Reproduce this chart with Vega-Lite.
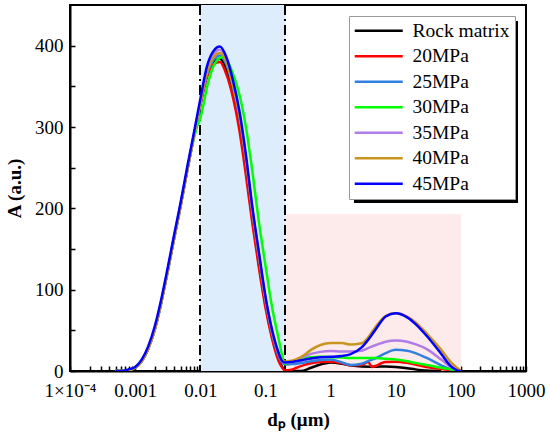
{
"$schema":"https://vega.github.io/schema/vega-lite/v6.json",
"width":456,"height":366,
"autosize":{"type":"none"},
"padding":{"left":70,"top":5,"right":24,"bottom":72},
"config":{
 "view":{"stroke":"black","strokeWidth":2},
 "font":"Liberation Serif",
 "style":{"guide-label":{"font":"Liberation Serif","fontSize":19,"fill":"black"},"guide-title":{"font":"Liberation Serif","fontSize":19,"fontWeight":"bold","fill":"black"}},
 "axis":{"domainColor":"black","domainWidth":2,"tickColor":"black","tickWidth":1.5,"labelColor":"black","labelFont":"Liberation Serif","labelFontSize":19,"titleFont":"Liberation Serif","titleFontSize":19,"titleFontWeight":"bold","titleColor":"black","grid":false,"labelOverlap":false,"labelBound":false,"labelFlush":false,"zindex":1},
 "legend":{"labelFont":"Liberation Serif","labelColor":"black"}
},
"data":{"values":[
{"s":"Rock matrix","x":0.0005,"y":0},{"s":"Rock matrix","x":0.00063,"y":0},{"s":"Rock matrix","x":0.00079,"y":1},{"s":"Rock matrix","x":0.001,"y":4},{"s":"Rock matrix","x":0.00126,"y":12},{"s":"Rock matrix","x":0.00158,"y":27},{"s":"Rock matrix","x":0.002,"y":51},{"s":"Rock matrix","x":0.00251,"y":84},{"s":"Rock matrix","x":0.00316,"y":123},{"s":"Rock matrix","x":0.00398,"y":164},{"s":"Rock matrix","x":0.00501,"y":204},{"s":"Rock matrix","x":0.00631,"y":247},{"s":"Rock matrix","x":0.00794,"y":288},{"s":"Rock matrix","x":0.01,"y":328},{"s":"Rock matrix","x":0.0126,"y":363},{"s":"Rock matrix","x":0.0158,"y":380},{"s":"Rock matrix","x":0.02,"y":384},{"s":"Rock matrix","x":0.0251,"y":371},{"s":"Rock matrix","x":0.0316,"y":343},{"s":"Rock matrix","x":0.0398,"y":303},{"s":"Rock matrix","x":0.0501,"y":249},{"s":"Rock matrix","x":0.0631,"y":187},{"s":"Rock matrix","x":0.0794,"y":132},{"s":"Rock matrix","x":0.1,"y":82},{"s":"Rock matrix","x":0.126,"y":43},{"s":"Rock matrix","x":0.158,"y":15},{"s":"Rock matrix","x":0.178,"y":6},{"s":"Rock matrix","x":0.2,"y":1},{"s":"Rock matrix","x":0.25,"y":0},{"s":"Rock matrix","x":0.3,"y":0},{"s":"Rock matrix","x":0.35,"y":0},{"s":"Rock matrix","x":0.5,"y":4},{"s":"Rock matrix","x":0.7,"y":8},{"s":"Rock matrix","x":1,"y":10.5},{"s":"Rock matrix","x":1.5,"y":9},{"s":"Rock matrix","x":2,"y":7},{"s":"Rock matrix","x":3,"y":5.5},{"s":"Rock matrix","x":4,"y":5.3},{"s":"Rock matrix","x":5,"y":5.3},{"s":"Rock matrix","x":7,"y":5.5},{"s":"Rock matrix","x":10,"y":5},{"s":"Rock matrix","x":15,"y":3.5},{"s":"Rock matrix","x":20,"y":2},{"s":"Rock matrix","x":30,"y":0.5},{"s":"Rock matrix","x":50,"y":0},
{"s":"20MPa","x":0.0005,"y":0},{"s":"20MPa","x":0.00063,"y":0},{"s":"20MPa","x":0.00079,"y":1},{"s":"20MPa","x":0.001,"y":4},{"s":"20MPa","x":0.00126,"y":12},{"s":"20MPa","x":0.00158,"y":27},{"s":"20MPa","x":0.002,"y":51},{"s":"20MPa","x":0.00251,"y":84},{"s":"20MPa","x":0.00316,"y":123},{"s":"20MPa","x":0.00398,"y":164},{"s":"20MPa","x":0.00501,"y":204},{"s":"20MPa","x":0.00631,"y":247},{"s":"20MPa","x":0.00794,"y":288},{"s":"20MPa","x":0.01,"y":326},{"s":"20MPa","x":0.0126,"y":361},{"s":"20MPa","x":0.0158,"y":377},{"s":"20MPa","x":0.02,"y":380},{"s":"20MPa","x":0.0251,"y":365},{"s":"20MPa","x":0.0316,"y":337},{"s":"20MPa","x":0.0398,"y":296},{"s":"20MPa","x":0.0501,"y":241},{"s":"20MPa","x":0.0631,"y":181},{"s":"20MPa","x":0.0794,"y":127},{"s":"20MPa","x":0.1,"y":78},{"s":"20MPa","x":0.126,"y":40},{"s":"20MPa","x":0.158,"y":13},{"s":"20MPa","x":0.178,"y":5},{"s":"20MPa","x":0.2,"y":0.5},{"s":"20MPa","x":0.25,"y":1.5},{"s":"20MPa","x":0.3,"y":4},{"s":"20MPa","x":0.4,"y":7.5},{"s":"20MPa","x":0.5,"y":9.5},{"s":"20MPa","x":0.7,"y":11},{"s":"20MPa","x":1,"y":11.5},{"s":"20MPa","x":1.5,"y":9.5},{"s":"20MPa","x":2,"y":7},{"s":"20MPa","x":3,"y":7.5},{"s":"20MPa","x":3.8,"y":11},{"s":"20MPa","x":4.3,"y":5},{"s":"20MPa","x":5,"y":6.5},{"s":"20MPa","x":6,"y":9.5},{"s":"20MPa","x":7,"y":11},{"s":"20MPa","x":10,"y":11.5},{"s":"20MPa","x":15,"y":10},{"s":"20MPa","x":20,"y":8},{"s":"20MPa","x":30,"y":5},{"s":"20MPa","x":50,"y":2.5},{"s":"20MPa","x":70,"y":1},{"s":"20MPa","x":90,"y":0},{"s":"20MPa","x":100,"y":0},
{"s":"25MPa","x":0.0005,"y":0},{"s":"25MPa","x":0.00063,"y":0},{"s":"25MPa","x":0.00079,"y":1},{"s":"25MPa","x":0.001,"y":4},{"s":"25MPa","x":0.00126,"y":12},{"s":"25MPa","x":0.00158,"y":27},{"s":"25MPa","x":0.002,"y":51},{"s":"25MPa","x":0.00251,"y":84},{"s":"25MPa","x":0.00316,"y":123},{"s":"25MPa","x":0.00398,"y":164},{"s":"25MPa","x":0.00501,"y":204},{"s":"25MPa","x":0.00631,"y":247},{"s":"25MPa","x":0.00794,"y":288},{"s":"25MPa","x":0.01,"y":328},{"s":"25MPa","x":0.0126,"y":364},{"s":"25MPa","x":0.0158,"y":382},{"s":"25MPa","x":0.02,"y":388},{"s":"25MPa","x":0.0251,"y":377},{"s":"25MPa","x":0.0316,"y":350},{"s":"25MPa","x":0.0398,"y":312},{"s":"25MPa","x":0.0501,"y":259},{"s":"25MPa","x":0.0631,"y":195},{"s":"25MPa","x":0.0794,"y":140},{"s":"25MPa","x":0.1,"y":87},{"s":"25MPa","x":0.126,"y":47},{"s":"25MPa","x":0.158,"y":19},{"s":"25MPa","x":0.178,"y":11},{"s":"25MPa","x":0.2,"y":8},{"s":"25MPa","x":0.25,"y":8.5},{"s":"25MPa","x":0.3,"y":9},{"s":"25MPa","x":0.4,"y":10.5},{"s":"25MPa","x":0.5,"y":12},{"s":"25MPa","x":0.7,"y":13.5},{"s":"25MPa","x":1,"y":14},{"s":"25MPa","x":1.5,"y":10.5},{"s":"25MPa","x":2,"y":7.5},{"s":"25MPa","x":3,"y":9},{"s":"25MPa","x":4,"y":13},{"s":"25MPa","x":5,"y":16},{"s":"25MPa","x":7,"y":22},{"s":"25MPa","x":10,"y":26},{"s":"25MPa","x":15,"y":25},{"s":"25MPa","x":20,"y":22},{"s":"25MPa","x":30,"y":16},{"s":"25MPa","x":50,"y":7},{"s":"25MPa","x":70,"y":2},{"s":"25MPa","x":90,"y":0},{"s":"25MPa","x":100,"y":0},
{"s":"30MPa","x":0.0005,"y":0},{"s":"30MPa","x":0.00063,"y":0},{"s":"30MPa","x":0.00079,"y":1},{"s":"30MPa","x":0.001,"y":4},{"s":"30MPa","x":0.00126,"y":12},{"s":"30MPa","x":0.00158,"y":27},{"s":"30MPa","x":0.002,"y":51},{"s":"30MPa","x":0.00251,"y":84},{"s":"30MPa","x":0.00316,"y":123},{"s":"30MPa","x":0.00398,"y":164},{"s":"30MPa","x":0.00501,"y":204},{"s":"30MPa","x":0.00631,"y":247},{"s":"30MPa","x":0.00794,"y":285},{"s":"30MPa","x":0.0089,"y":300},{"s":"30MPa","x":0.01,"y":311},{"s":"30MPa","x":0.0112,"y":328},{"s":"30MPa","x":0.0126,"y":348},{"s":"30MPa","x":0.0158,"y":374},{"s":"30MPa","x":0.02,"y":385},{"s":"30MPa","x":0.0224,"y":386},{"s":"30MPa","x":0.0251,"y":383},{"s":"30MPa","x":0.0316,"y":366},{"s":"30MPa","x":0.0398,"y":340},{"s":"30MPa","x":0.0501,"y":300},{"s":"30MPa","x":0.0631,"y":245},{"s":"30MPa","x":0.0794,"y":183},{"s":"30MPa","x":0.1,"y":130},{"s":"30MPa","x":0.126,"y":79},{"s":"30MPa","x":0.158,"y":41},{"s":"30MPa","x":0.178,"y":21},{"s":"30MPa","x":0.2,"y":9},{"s":"30MPa","x":0.25,"y":11},{"s":"30MPa","x":0.3,"y":13},{"s":"30MPa","x":0.4,"y":15.5},{"s":"30MPa","x":0.5,"y":17},{"s":"30MPa","x":0.7,"y":17.5},{"s":"30MPa","x":1,"y":17},{"s":"30MPa","x":1.5,"y":16.5},{"s":"30MPa","x":2,"y":16},{"s":"30MPa","x":3,"y":16},{"s":"30MPa","x":4,"y":16},{"s":"30MPa","x":5,"y":16},{"s":"30MPa","x":7,"y":15},{"s":"30MPa","x":10,"y":14},{"s":"30MPa","x":15,"y":12},{"s":"30MPa","x":20,"y":10},{"s":"30MPa","x":30,"y":7.5},{"s":"30MPa","x":50,"y":4},{"s":"30MPa","x":70,"y":2},{"s":"30MPa","x":90,"y":0.5},{"s":"30MPa","x":100,"y":0},
{"s":"35MPa","x":0.0005,"y":0},{"s":"35MPa","x":0.00063,"y":0},{"s":"35MPa","x":0.00079,"y":1},{"s":"35MPa","x":0.001,"y":4},{"s":"35MPa","x":0.00126,"y":12},{"s":"35MPa","x":0.00158,"y":27},{"s":"35MPa","x":0.002,"y":51},{"s":"35MPa","x":0.00251,"y":84},{"s":"35MPa","x":0.00316,"y":123},{"s":"35MPa","x":0.00398,"y":164},{"s":"35MPa","x":0.00501,"y":204},{"s":"35MPa","x":0.00631,"y":247},{"s":"35MPa","x":0.00794,"y":288},{"s":"35MPa","x":0.01,"y":330},{"s":"35MPa","x":0.0126,"y":369},{"s":"35MPa","x":0.0158,"y":389},{"s":"35MPa","x":0.02,"y":395},{"s":"35MPa","x":0.0251,"y":383},{"s":"35MPa","x":0.0316,"y":355},{"s":"35MPa","x":0.0398,"y":317},{"s":"35MPa","x":0.0501,"y":263},{"s":"35MPa","x":0.0631,"y":198},{"s":"35MPa","x":0.0794,"y":143},{"s":"35MPa","x":0.1,"y":89},{"s":"35MPa","x":0.126,"y":49},{"s":"35MPa","x":0.158,"y":22},{"s":"35MPa","x":0.178,"y":13},{"s":"35MPa","x":0.2,"y":10},{"s":"35MPa","x":0.25,"y":11},{"s":"35MPa","x":0.3,"y":14},{"s":"35MPa","x":0.4,"y":18},{"s":"35MPa","x":0.5,"y":21},{"s":"35MPa","x":0.7,"y":23.5},{"s":"35MPa","x":1,"y":24.5},{"s":"35MPa","x":1.5,"y":24},{"s":"35MPa","x":2,"y":24},{"s":"35MPa","x":3,"y":25},{"s":"35MPa","x":4,"y":29},{"s":"35MPa","x":5,"y":32},{"s":"35MPa","x":7,"y":36},{"s":"35MPa","x":10,"y":37.5},{"s":"35MPa","x":15,"y":36},{"s":"35MPa","x":20,"y":33},{"s":"35MPa","x":30,"y":27},{"s":"35MPa","x":50,"y":14},{"s":"35MPa","x":70,"y":5},{"s":"35MPa","x":90,"y":1},{"s":"35MPa","x":100,"y":0},
{"s":"40MPa","x":0.0005,"y":0},{"s":"40MPa","x":0.00063,"y":0},{"s":"40MPa","x":0.00079,"y":1},{"s":"40MPa","x":0.001,"y":4},{"s":"40MPa","x":0.00126,"y":12},{"s":"40MPa","x":0.00158,"y":27},{"s":"40MPa","x":0.002,"y":51},{"s":"40MPa","x":0.00251,"y":84},{"s":"40MPa","x":0.00316,"y":123},{"s":"40MPa","x":0.00398,"y":164},{"s":"40MPa","x":0.00501,"y":204},{"s":"40MPa","x":0.00631,"y":247},{"s":"40MPa","x":0.00794,"y":288},{"s":"40MPa","x":0.01,"y":329},{"s":"40MPa","x":0.0126,"y":366},{"s":"40MPa","x":0.0158,"y":385},{"s":"40MPa","x":0.02,"y":391},{"s":"40MPa","x":0.0251,"y":380},{"s":"40MPa","x":0.0316,"y":352},{"s":"40MPa","x":0.0398,"y":315},{"s":"40MPa","x":0.0501,"y":262},{"s":"40MPa","x":0.0631,"y":198},{"s":"40MPa","x":0.0794,"y":143},{"s":"40MPa","x":0.1,"y":90},{"s":"40MPa","x":0.126,"y":50},{"s":"40MPa","x":0.158,"y":23},{"s":"40MPa","x":0.178,"y":14},{"s":"40MPa","x":0.2,"y":11.5},{"s":"40MPa","x":0.25,"y":12.5},{"s":"40MPa","x":0.3,"y":14.5},{"s":"40MPa","x":0.4,"y":20},{"s":"40MPa","x":0.5,"y":26},{"s":"40MPa","x":0.7,"y":32},{"s":"40MPa","x":1,"y":34.5},{"s":"40MPa","x":1.5,"y":34.5},{"s":"40MPa","x":2,"y":32.5},{"s":"40MPa","x":3,"y":34},{"s":"40MPa","x":4,"y":44},{"s":"40MPa","x":5,"y":55},{"s":"40MPa","x":7,"y":67.5},{"s":"40MPa","x":10,"y":71},{"s":"40MPa","x":15,"y":67},{"s":"40MPa","x":20,"y":60},{"s":"40MPa","x":30,"y":46},{"s":"40MPa","x":50,"y":26},{"s":"40MPa","x":70,"y":11},{"s":"40MPa","x":90,"y":3},{"s":"40MPa","x":100,"y":0},
{"s":"45MPa","x":0.0005,"y":0},{"s":"45MPa","x":0.00063,"y":0},{"s":"45MPa","x":0.00079,"y":2},{"s":"45MPa","x":0.001,"y":5},{"s":"45MPa","x":0.00126,"y":14},{"s":"45MPa","x":0.00158,"y":30},{"s":"45MPa","x":0.002,"y":55},{"s":"45MPa","x":0.00251,"y":88},{"s":"45MPa","x":0.00316,"y":127},{"s":"45MPa","x":0.00398,"y":168},{"s":"45MPa","x":0.00501,"y":208},{"s":"45MPa","x":0.00631,"y":251},{"s":"45MPa","x":0.00794,"y":292},{"s":"45MPa","x":0.01,"y":334},{"s":"45MPa","x":0.0126,"y":374},{"s":"45MPa","x":0.0158,"y":393},{"s":"45MPa","x":0.02,"y":399},{"s":"45MPa","x":0.0251,"y":386},{"s":"45MPa","x":0.0316,"y":358},{"s":"45MPa","x":0.0398,"y":320},{"s":"45MPa","x":0.0501,"y":266},{"s":"45MPa","x":0.0631,"y":201},{"s":"45MPa","x":0.0794,"y":146},{"s":"45MPa","x":0.1,"y":92},{"s":"45MPa","x":0.126,"y":51},{"s":"45MPa","x":0.158,"y":23},{"s":"45MPa","x":0.178,"y":13},{"s":"45MPa","x":0.2,"y":10.5},{"s":"45MPa","x":0.25,"y":11},{"s":"45MPa","x":0.3,"y":12},{"s":"45MPa","x":0.4,"y":14},{"s":"45MPa","x":0.5,"y":15.5},{"s":"45MPa","x":0.7,"y":17},{"s":"45MPa","x":1,"y":17.5},{"s":"45MPa","x":1.5,"y":18.5},{"s":"45MPa","x":2,"y":20.5},{"s":"45MPa","x":3,"y":29},{"s":"45MPa","x":4,"y":41},{"s":"45MPa","x":5,"y":52},{"s":"45MPa","x":7,"y":67},{"s":"45MPa","x":10,"y":71},{"s":"45MPa","x":15,"y":66},{"s":"45MPa","x":20,"y":58},{"s":"45MPa","x":30,"y":43},{"s":"45MPa","x":50,"y":21},{"s":"45MPa","x":70,"y":6},{"s":"45MPa","x":90,"y":0.5},{"s":"45MPa","x":100,"y":0}
]},
"layer":[
 {"mark":{"type":"rect","color":"#ddedfb"},"encoding":{"x":{"datum":0.01,"type":"quantitative"},"x2":{"datum":0.2},"y":{"datum":0,"type":"quantitative"},"y2":{"datum":450}}},
 {"mark":{"type":"rect","color":"#fdeaea"},"encoding":{"x":{"datum":0.2,"type":"quantitative"},"x2":{"datum":100},"y":{"datum":0,"type":"quantitative"},"y2":{"datum":192}}},
 {"mark":{"type":"rule","color":"black","strokeWidth":1.3,"strokeDash":[10,4,2,4]},"encoding":{"x":{"datum":0.01,"type":"quantitative"}}},
 {"mark":{"type":"rule","color":"black","strokeWidth":1.3,"strokeDash":[10,4,2,4]},"encoding":{"x":{"datum":0.2,"type":"quantitative"}}},
 {"mark":{"type":"rect","color":"black"},"encoding":{"x":{"datum":2.37,"type":"quantitative"},"x2":{"datum":753},"y":{"datum":206.6,"type":"quantitative"},"y2":{"datum":430}}},
 {"mark":{"type":"line","interpolate":"monotone","strokeWidth":2.5,"clip":true},
  "encoding":{
   "x":{"field":"x","type":"quantitative","scale":{"type":"log","domain":[0.0001,1000]},
    "axis":{"title":"dₚ (μm)","values":[0.0001,0.0002,0.0003,0.0004,0.0005,0.0006,0.0007,0.0008,0.0009,0.001,0.002,0.003,0.004,0.005,0.006,0.007,0.008,0.009,0.01,0.02,0.03,0.04,0.05,0.06,0.07,0.08,0.09,0.1,0.2,0.3,0.4,0.5,0.6,0.7,0.8,0.9,1,2,3,4,5,6,7,8,9,10,20,30,40,50,60,70,80,90,100,200,300,400,500,600,700,800,900,1000],
     "labelExpr":"abs(log(datum.value)/LN10 - round(log(datum.value)/LN10)) < 0.01 ? (datum.value < 0.0005 ? '1×10⁻⁴' : format(datum.value, '~g')) : ''",
     "tickSize":-5,
     "labelFont":"Liberation Serif","labelFontSize":19,"titleFont":"Liberation Serif","titleFontSize":19,
     "labelPadding":15,"titlePadding":10}},
   "y":{"field":"y","type":"quantitative","scale":{"domain":[0,450],"nice":false},
    "axis":{"title":"A (a.u.)","values":[0,50,100,150,200,250,300,350,400],
     "labelExpr":"datum.value % 100 == 0 ? datum.label : ''",
     "tickSize":-5,
     "labelFont":"Liberation Serif","labelFontSize":19,"titleFont":"Liberation Serif","titleFontSize":19,
     "labelPadding":12,"titlePadding":10}},
   "color":{"field":"s","type":"nominal",
    "scale":{"domain":["Rock matrix","20MPa","25MPa","30MPa","35MPa","40MPa","45MPa"],"range":["#000000","#ff0000","#2f80e0","#00ff00","#b07ce6","#c8961e","#0000ff"]},
    "legend":{"orient":"none","legendX":279,"legendY":11,"title":null,"symbolType":"M-1.5,0H6.5","symbolSize":144,"symbolStrokeWidth":2.5,"labelFont":"Liberation Serif","labelFontSize":19.5,"labelFontWeight":"normal","labelOffset":39,"rowPadding":4.5,"padding":5,"strokeColor":"#999999","fillColor":"white"}}
  }}
]
}
